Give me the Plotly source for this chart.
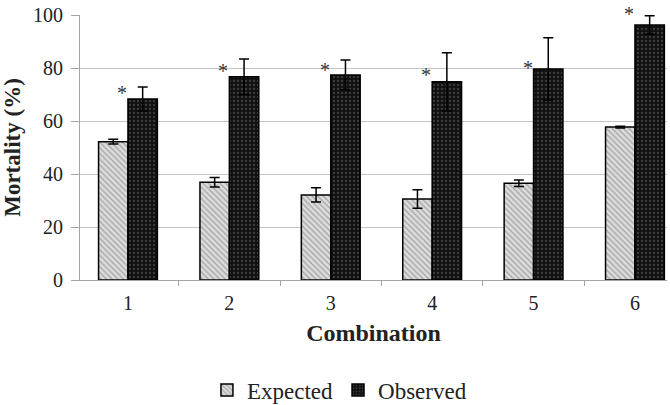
import plotly.graph_objects as go

categories = ["1", "2", "3", "4", "5", "6"]
expected = [52.2, 36.9, 32.1, 30.6, 36.5, 57.7]
expected_err = [0.9, 1.8, 2.7, 3.5, 1.2, 0.3]
observed = [68.3, 76.7, 77.4, 74.8, 79.6, 96.2]
observed_err = [4.5, 6.7, 5.6, 11.0, 11.8, 3.5]
asterisk_y = [71.7, 79.9, 80.3, 78.4, 81.1, 101.6]
y_ticks = [0, 20, 40, 60, 80, 100]
Y_MAX = 100

FONT = "Liberation Serif"

fig = go.Figure()
fig.add_trace(go.Bar(
    name="Expected", x=categories, y=expected,
    error_y=dict(type="data", array=expected_err, symmetric=True,
                 color="black", thickness=1.5, width=5),
    marker=dict(color="#cfcfcf",
                line=dict(color="black", width=1.5),
                pattern=dict(shape="\\", fgcolor="#7a7a7a", bgcolor="#dedede",
                             size=4, solidity=0.4)),
))
fig.add_trace(go.Bar(
    name="Observed", x=categories, y=observed,
    error_y=dict(type="data", array=observed_err, symmetric=True,
                 color="black", thickness=1.5, width=5),
    marker=dict(color="#111111",
                line=dict(color="black", width=1.5),
                pattern=dict(shape=".", fgcolor="#6a6a6a", bgcolor="#111111",
                             size=4, solidity=0.25)),
))

# significance asterisks (y axis spans 0..Y_MAX, so the paper fraction is value/Y_MAX)
for i, ay in enumerate(asterisk_y):
    fig.add_annotation(x=i, y=ay / Y_MAX, xref="x", yref="paper", text="*",
                       showarrow=False, xshift=-6, yshift=10,
                       font=dict(family=FONT, size=20, color="#333"))

fig.update_layout(
    width=670, height=405,
    margin=dict(l=80, r=3, t=15, b=125, autoexpand=False),
    paper_bgcolor="white", plot_bgcolor="white",
    barmode="group", bargap=0.42, bargroupgap=0,
    font=dict(family=FONT, size=20, color="#222"),
    showlegend=True,
    legend=dict(orientation="h", x=0.442, xanchor="center", y=-0.415, yanchor="middle",
                font=dict(family=FONT, size=23, color="#222"),
                itemwidth=30, traceorder="normal"),
)
fig.update_xaxes(
    type="category", range=[-0.473, 5.316], automargin=False,
    showline=True, linecolor="#a6a6a6", linewidth=1,
    ticks="outside", tickson="boundaries", ticklen=5, tickcolor="#a6a6a6",
    ticklabelstandoff=5,
    showgrid=False,
    tickfont=dict(family=FONT, size=20, color="#222"),
    title=dict(text="<b>Combination</b>", font=dict(family=FONT, size=24, color="#222"),
               standoff=11),
)
fig.update_yaxes(
    range=[0, Y_MAX], tickvals=y_ticks, automargin=False,
    showline=True, linecolor="#a6a6a6", linewidth=1,
    ticks="outside", ticklen=8, tickcolor="#a6a6a6",
    ticklabelstandoff=4,
    showgrid=True, gridcolor="#c4c4c4", gridwidth=1, zeroline=False,
    tickfont=dict(family=FONT, size=20, color="#222"),
    title=dict(text="<b>Mortality (%)</b>", font=dict(family=FONT, size=23, color="#222"),
               standoff=6),
)

fig.write_html("out.html")
